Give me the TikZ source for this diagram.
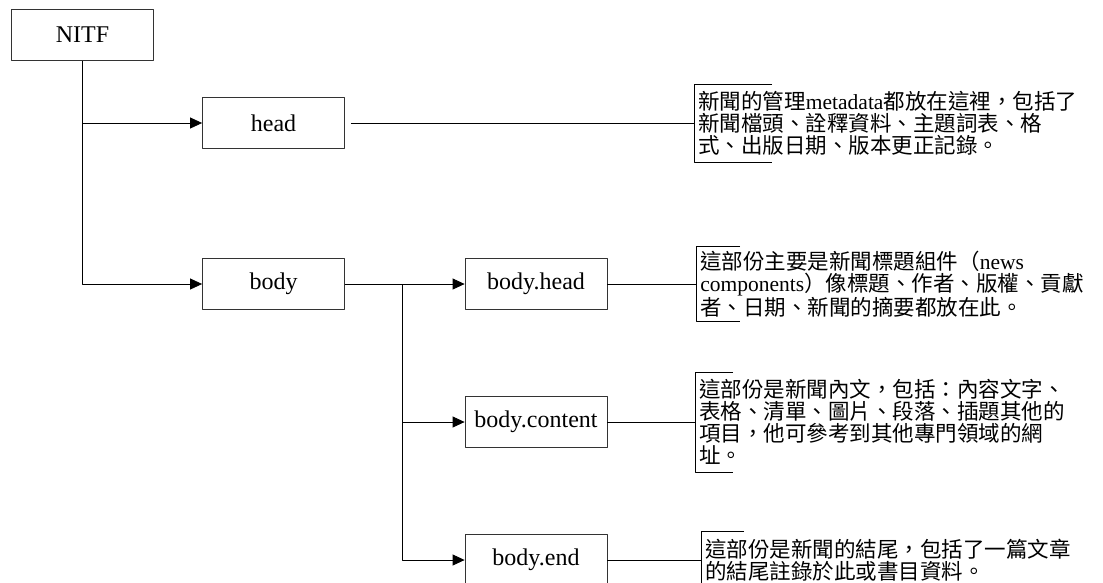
\documentclass[tikz,border=0pt]{standalone}
\usepackage{fontspec}
\setmainfont{Liberation Serif}
\newfontfamily\cjk{Noto Sans CJK TC}
\usetikzlibrary{arrows.meta}
\newcommand{\lat}[1]{{\rmfamily #1}}
\tikzset{
	box/.style={draw=black!80, minimum width=142, minimum height=51, inner sep=0, font=\fontsize{24}{24}\selectfont},
	note/.style={anchor=west, align=left, inner xsep=4, inner ysep=0, font=\cjk\fontsize{21.5}{22}\selectfont},
}
\begin{document}
\begin{tikzpicture}[x=1pt,y=-1pt,line join=round,line width=0.8pt,>={Triangle[length=12pt,width=11pt]}]
	\useasboundingbox (0,0) rectangle (1103,582);
	\node[box] (NITF) at (82.5,35) {NITF};
	\node[box] (head) at (273.5,123) {head};
	\node[box] (body) at (273.5,284) {body};
	\node[box] (bhead) at (536,284) {body.head};
	\node[box] (bcontent) at (536,422) {body.content};
	\node[box] (bend) at (536,560) {body.end};
	\coordinate (split) at (402,284);
	\draw[->] (NITF.south) |- (head.west);
	\draw[->] (NITF.south) |- (body.west);
	\draw[->] (body.east) -- (bhead.west);
	\draw[->] (split) |- (bcontent.west);
	\draw[->] (split) |- (bend.west);
	
	\node[note, minimum height=77] (nhead) at (694,123) {新聞的管理\lat{metadata}都放在這裡，包括了\\新聞檔頭、詮釋資料、主題詞表、格\\式、出版日期、版本更正記錄。};
	\node[note, minimum height=74] (nbhead) at (696,284) {這部份主要是新聞標題組件（\lat{news}\\\lat{components}）像標題、作者、版權、貢獻\\者、日期、新聞的摘要都放在此。};
	\node[note, minimum height=99] (nbcontent) at (695,422) {這部份是新聞內文，包括：內容文字、\\表格、清單、圖片、段落、插題其他的\\項目，他可參考到其他專門領域的網\\址。};
	\node[note, minimum height=56] (nbend) at (701,560) {這部份是新聞的結尾，包括了一篇文章\\的結尾註錄於此或書目資料。};
	\foreach \n/\t in {nhead/78,nbhead/44,nbcontent/38,nbend/43}{
		\draw ([xshift=\t]\n.north west) -| (\n.south west) -- ++(\t,0);
	};
	\draw ([xshift=6]head.east) -- (nhead.west);
	\foreach \a/\b in {bhead/nbhead,bcontent/nbcontent,bend/nbend}{
		\draw (\a.east) -- (\b.west);
	};
\end{tikzpicture}
\end{document}
